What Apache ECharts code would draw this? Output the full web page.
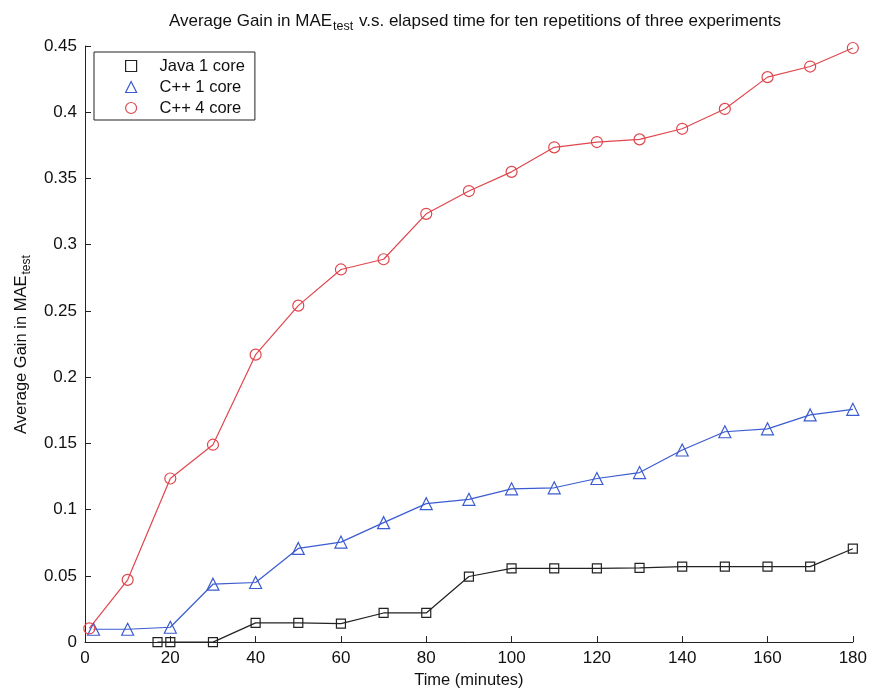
<!DOCTYPE html>
<html>
<head>
<meta charset="utf-8">
<script src="https://cdn.jsdelivr.net/npm/echarts@6/dist/echarts.min.js"></script>
<style>
  html, body { margin: 0; padding: 0; background: #fff; overflow: hidden; }
  #chart { width: 870px; height: 694px; }
</style>
</head>
<body>
<div id="chart"></div>
<script>
// Elapsed time (minutes) at which each run was sampled
const javaTime = [17, 20, 30, 40, 50, 60, 70, 80, 90, 100, 110, 120, 130, 140, 150, 160, 170, 180];
const javaGain = [0, 0, 0, 0.0145, 0.0145, 0.014, 0.022, 0.022, 0.0495, 0.0557, 0.0557, 0.0557, 0.056, 0.057, 0.057, 0.057, 0.057, 0.0705];

const cpp1Time = [2, 10, 20, 30, 40, 50, 60, 70, 80, 90, 100, 110, 120, 130, 140, 150, 160, 170, 180];
const cpp1Gain = [0.0097, 0.0097, 0.0112, 0.0437, 0.045, 0.0707, 0.0755, 0.0902, 0.1045, 0.1078, 0.1157, 0.1165, 0.1235, 0.128, 0.145, 0.1588, 0.161, 0.1715, 0.1757];

const cpp4Time = [1, 10, 20, 30, 40, 50, 60, 70, 80, 90, 100, 110, 120, 130, 140, 150, 160, 170, 180];
const cpp4Gain = [0.0103, 0.047, 0.1235, 0.149, 0.217, 0.254, 0.2813, 0.289, 0.3233, 0.3405, 0.355, 0.3735, 0.3775, 0.3795, 0.3875, 0.4025, 0.4265, 0.4345, 0.4485];

const seriesNames = ['Java 1 core', 'C++ 1 core', 'C++ 4 core'];
const xTicks = { min: 0, max: 180, step: 20 };
const yTicks = { min: 0, max: 0.45, step: 0.05 };

const FONT = 'Liberation Sans, Arial, Helvetica, sans-serif';
const colors = ['#222222', '#3b5bd0', '#e0464e'];
const symbols = ['rect', 'triangle', 'circle'];
const symbolSizes = [9, 12, 11];

function pairs(xs, ys) { return xs.map((x, i) => [x, ys[i]]); }
const allData = [pairs(javaTime, javaGain), pairs(cpp1Time, cpp1Gain), pairs(cpp4Time, cpp4Gain)];

const chart = echarts.init(document.getElementById('chart'), null, { renderer: 'canvas', width: 870, height: 694 });

// main text plus a lowered, smaller "test" subscript
function subStyles(size, subSize) {
  return {
    a: { fontSize: size, fontFamily: FONT, fontWeight: 'normal', color: '#111', lineHeight: 24, verticalAlign: 'middle' },
    b: { fontSize: subSize, fontFamily: FONT, fontWeight: 'normal', color: '#111', lineHeight: 24, verticalAlign: 'bottom', padding: [0, 1, 0, 1] }
  };
}

chart.setOption({
  animation: false,
  backgroundColor: '#ffffff',
  title: {
    text: '{a|Average Gain in MAE}{b|test}{a| v.s. elapsed time for ten repetitions of three experiments}',
    left: 470,
    textAlign: 'center',
    top: 4,
    textStyle: { fontWeight: 'normal', rich: subStyles(17, 12.5) }
  },
  grid: { left: 85, top: 46, width: 768, height: 600, containLabel: false },
  legend: {
    left: 94,
    top: 52,
    orient: 'vertical',
    backgroundColor: '#ffffff',
    borderColor: '#222',
    borderWidth: 1,
    borderRadius: 0,
    padding: [5, 10, 3, 31],
    itemGap: 3,
    itemWidth: 11,
    itemHeight: 11,
    textStyle: { fontFamily: FONT, fontSize: 16.5, color: '#111', padding: [0, 0, 0, 18], lineHeight: 18 },
    data: seriesNames.map((n, i) => ({
      name: n,
      icon: symbols[i],
      itemStyle: { color: 'transparent', borderColor: colors[i], borderWidth: 1.2 }
    }))
  },
  xAxis: {
    type: 'value',
    min: xTicks.min,
    max: xTicks.max,
    interval: xTicks.step,
    name: 'Time (minutes)',
    nameLocation: 'middle',
    nameGap: 25,
    nameTextStyle: { fontFamily: FONT, fontSize: 16.5, color: '#111' },
    axisLine: { show: true, onZero: false, lineStyle: { color: '#222', width: 1 } },
    axisTick: { show: true, inside: true, length: 6, lineStyle: { color: '#222' } },
    axisLabel: { fontFamily: FONT, fontSize: 17, color: '#111', margin: 8 },
    splitLine: { show: false }
  },
  yAxis: {
    type: 'value',
    min: yTicks.min,
    max: yTicks.max,
    interval: yTicks.step,
    name: '{a|Average Gain in MAE}{b|test}',
    nameLocation: 'middle',
    nameGap: 52,
    nameRotate: 90,
    nameTextStyle: { rich: subStyles(16.5, 12) },
    axisLine: { show: true, lineStyle: { color: '#222', width: 1 } },
    axisTick: { show: true, inside: true, length: 6, lineStyle: { color: '#222' } },
    axisLabel: {
      fontFamily: FONT, fontSize: 17, color: '#111', margin: 8,
      formatter: v => String(parseFloat(v.toFixed(2)))
    },
    splitLine: { show: false }
  },
  series: seriesNames.map((n, i) => ({
    name: n,
    type: 'line',
    data: allData[i],
    symbol: symbols[i],
    symbolSize: symbolSizes[i],
    showAllSymbol: true,
    clip: false,
    lineStyle: { color: colors[i], width: 1.2 },
    itemStyle: { color: 'transparent', borderColor: colors[i], borderWidth: 1.2 },
    emphasis: { disabled: true }
  }))
});
</script>
</body>
</html>
